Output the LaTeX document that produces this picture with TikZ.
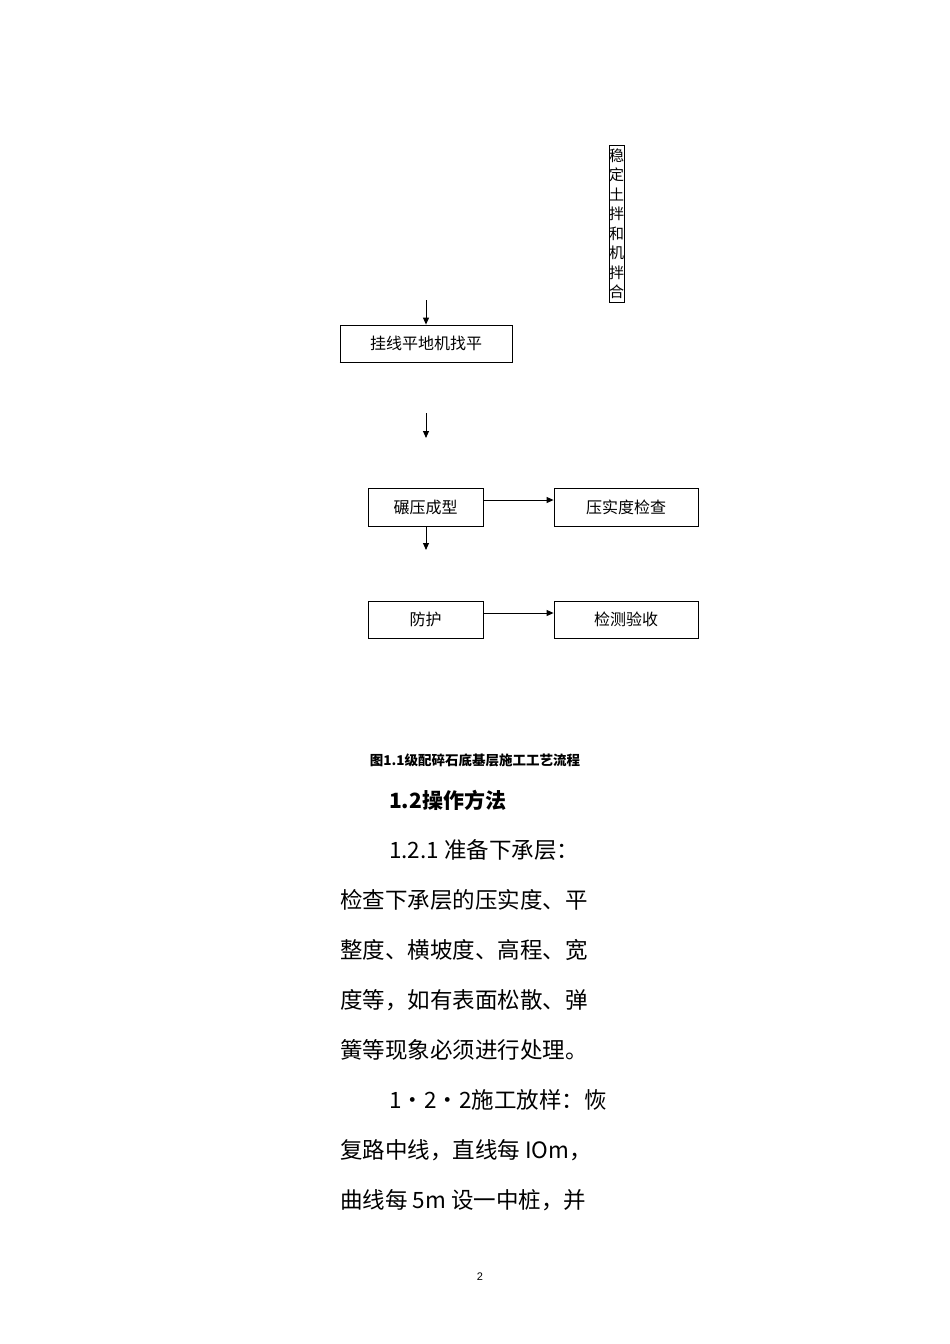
\documentclass[tikz,border=0pt]{standalone}
\usepackage{fontspec}
\setmainfont{Liberation Sans}
\newfontfamily\cjk{Noto Sans CJK SC}
\usetikzlibrary{arrows.meta}
\begin{document}
\begin{tikzpicture}[x=1pt,y=-1pt,
  bx/.style={draw,line width=0.8pt,inner sep=0pt,font=\cjk\fontsize{16}{18}\selectfont},
  ar/.style={-{Triangle[length=7pt,width=6pt]},line width=0.9pt},
  para/.style={anchor=west,inner sep=0pt,font=\cjk\fontsize{22.5}{24}\selectfont}]
\useasboundingbox (0,0) rectangle (950,1344);
\node[bx,minimum width=15pt,minimum height=157pt,text width=15pt,align=center,font=\cjk\fontsize{15}{19.5}\selectfont] (mix) at (616.5,223.5) {稳\\定\\土\\拌\\和\\机\\拌\\合};
\node[bx,minimum width=172pt,minimum height=37pt] (gx) at (426,343.5) {挂线平地机找平};
\draw[line width=1.6pt] (gx.south west) -- (gx.south east);
\coordinate (a1) at (426,300);
\draw[ar] (a1) -- (gx.north);
\coordinate (a2s) at (426,413);
\coordinate (a2e) at (426,438);
\draw[ar] (a2s) -- (a2e);
\node[bx,minimum width=115pt,minimum height=38pt] (ny) at (425.5,507) {碾压成型};
\node[bx,minimum width=144pt,minimum height=38pt] (ys) at (626,507) {压实度检查};
\draw[ar] (ny.east |- 0,500) -- (ys.west |- 0,500);
\coordinate (a3e) at (426,550);
\draw[ar] (ny.south -| a3e) -- (a3e);
\node[bx,minimum width=115pt,minimum height=37pt] (fh) at (425.5,619.5) {防护};
\node[bx,minimum width=144pt,minimum height=37pt] (jc) at (626,619.5) {检测验收};
\draw[ar] (fh.east |- 0,613) -- (jc.west |- 0,613);
\node[font=\cjk\bfseries\fontsize{13.5}{15}\selectfont,inner sep=0pt] (cap) at (475,760) {图1.1级配碎石底基层施工工艺流程};
\node[para,font=\cjk\bfseries\fontsize{21}{24}\selectfont] (h) at (389,800) {1.2操作方法};
\node[para] (l1) at (389,850) {1.2.1 准备下承层：};
\node[para] (l2) at (340,900) {检查下承层的压实度、平};
\node[para] (l3) at (340,950) {整度、横坡度、高程、宽};
\node[para] (l4) at (340,1000) {度等，如有表面松散、弹};
\node[para] (l5) at (340,1050) {簧等现象必须进行处理。};
\node[para] (l6) at (389,1100) {1·2·2施工放样：恢};
\node[para] (l7) at (340,1150) {复路中线，直线每 IOm，};
\node[para] (l8) at (340,1200) {曲线每 5m 设一中桩，并};
\node[font=\fontsize{11}{12}\selectfont,inner sep=0pt] (pg) at (480,1277) {2};
\end{tikzpicture}
\end{document}
